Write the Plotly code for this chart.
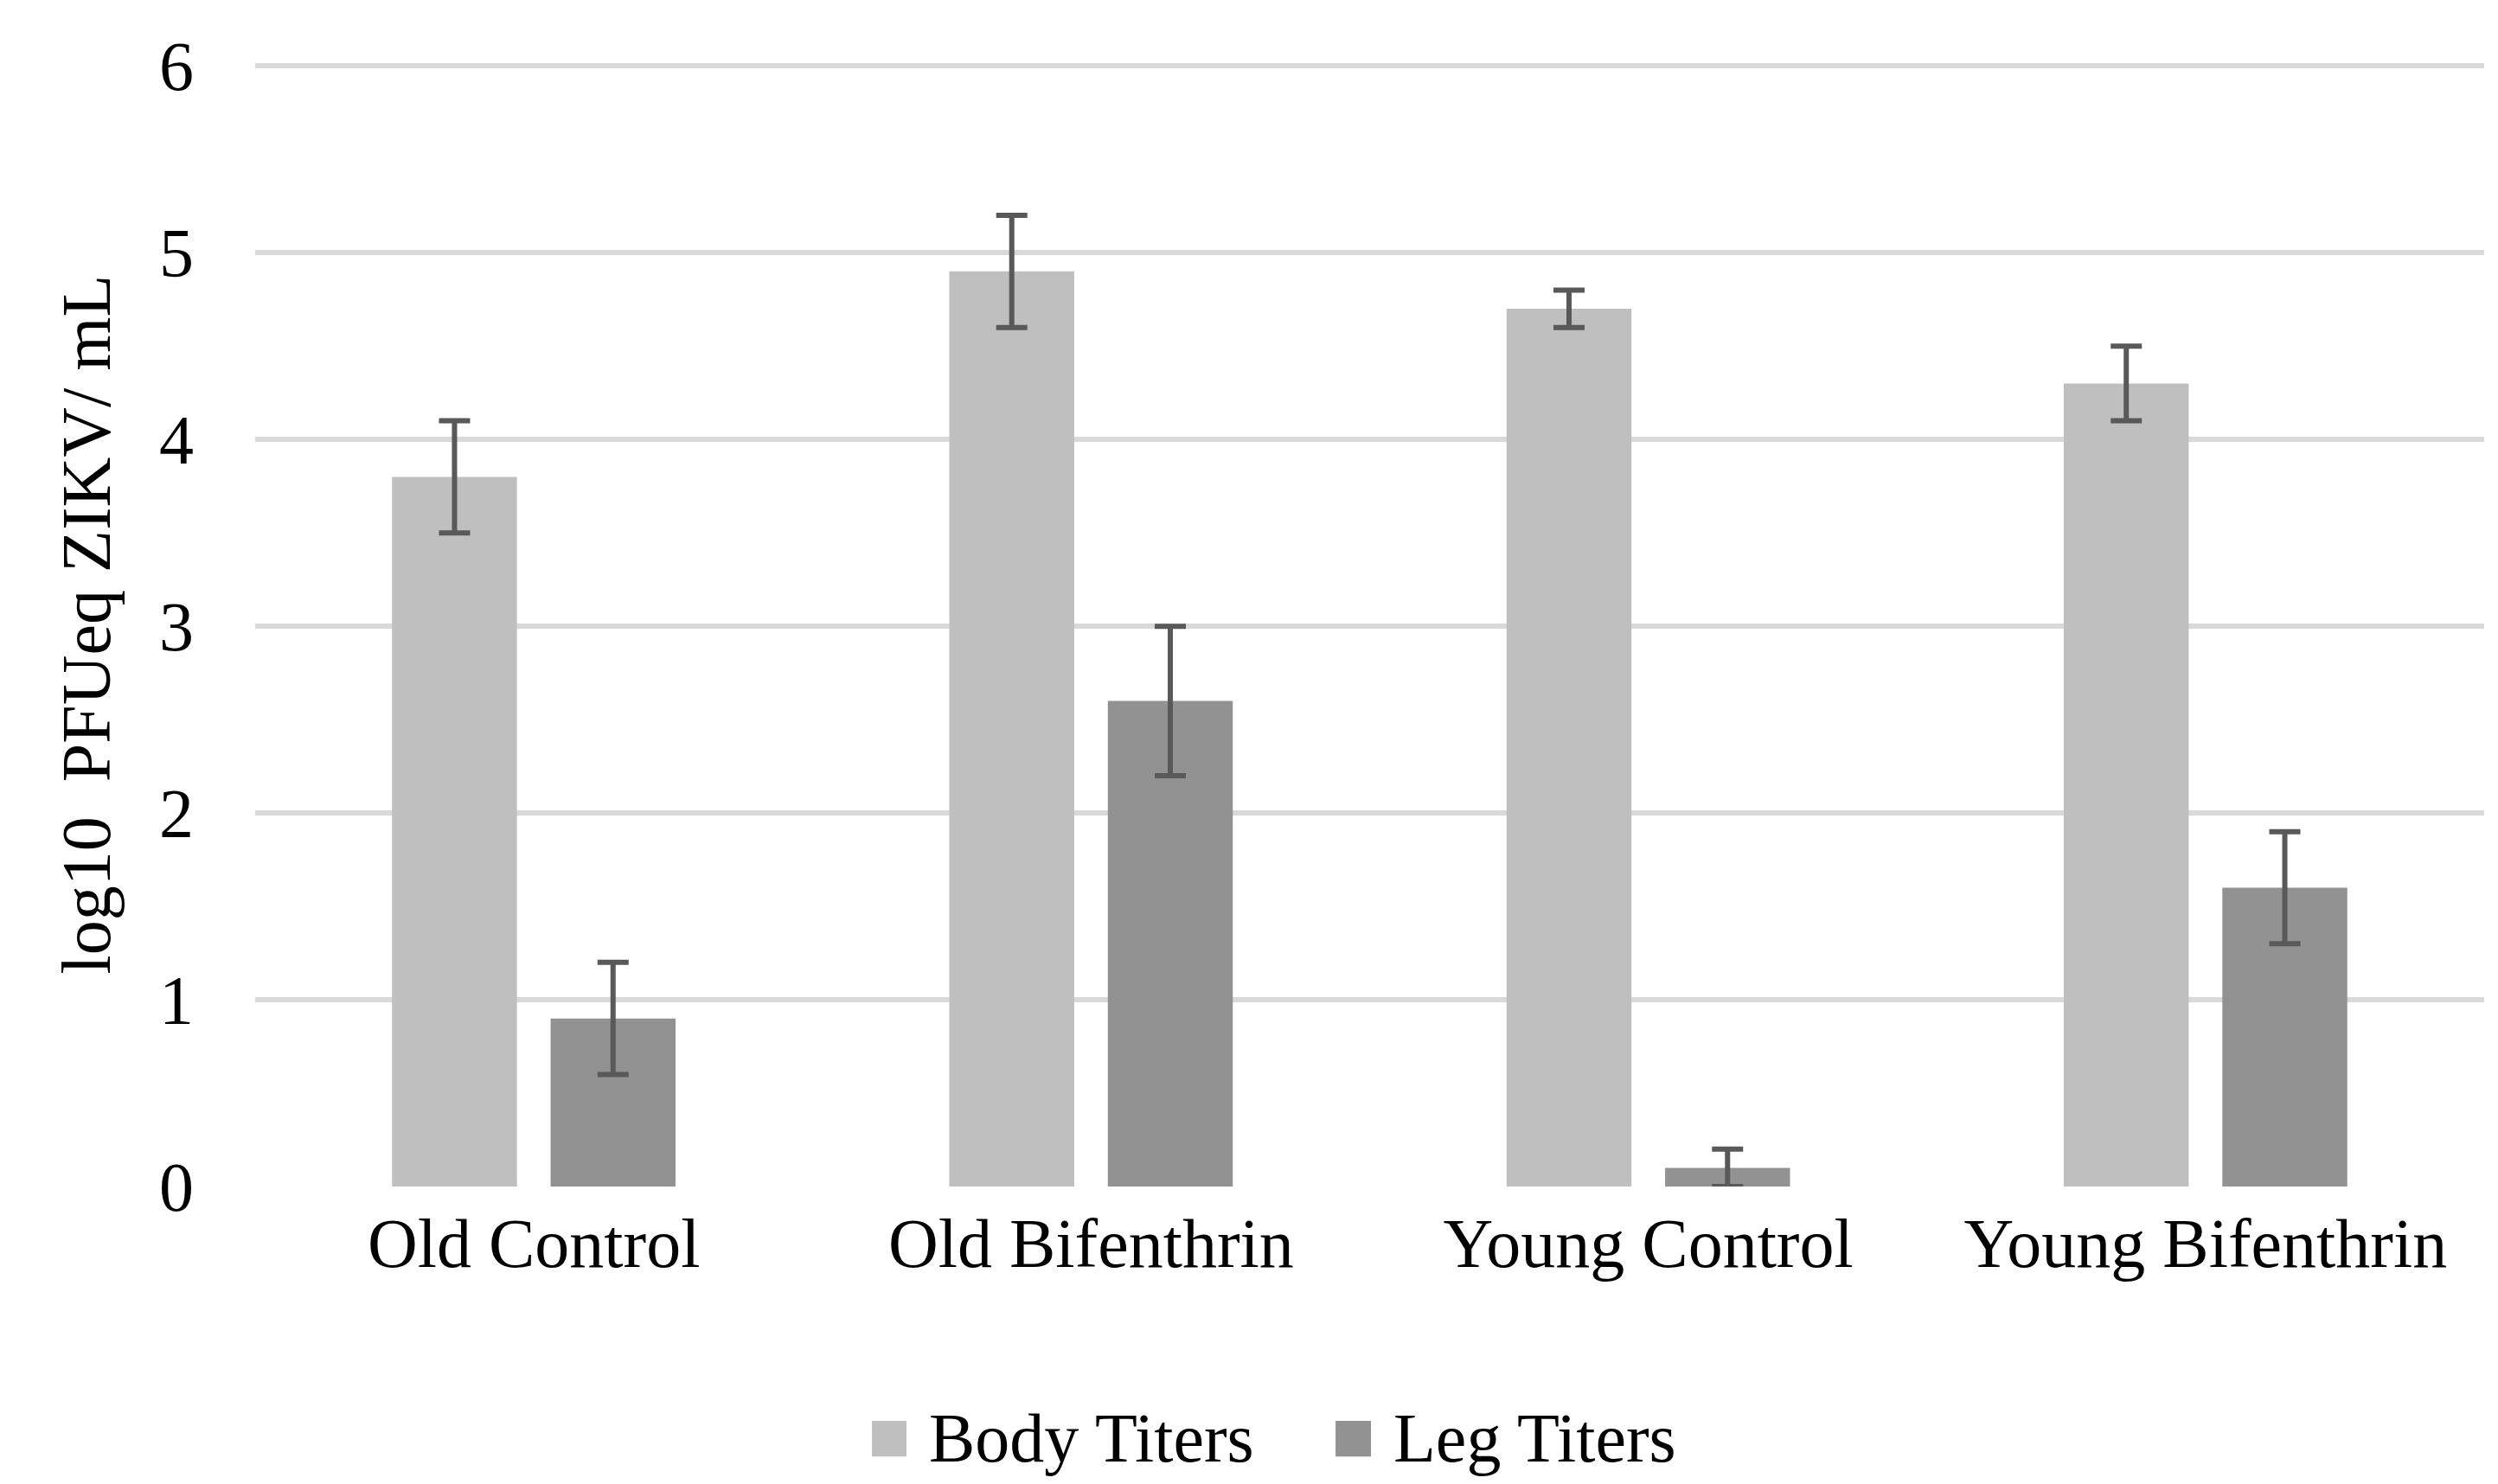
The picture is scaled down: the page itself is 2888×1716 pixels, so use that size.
import plotly.graph_objects as go

categories = ["Old Control", "Old Bifenthrin", "Young Control", "Young Bifenthrin"]
body_titers = [3.8, 4.9, 4.7, 4.3]
body_err = [0.3, 0.3, 0.1, 0.2]
leg_titers = [0.9, 2.6, 0.1, 1.6]
leg_err = [0.3, 0.4, 0.1, 0.3]
series_names = ["Body Titers", "Leg Titers"]
y_ticks = [0, 1, 2, 3, 4, 5, 6]

BODY_COLOR = "#BFBFBF"
LEG_COLOR = "#929292"
ERR_COLOR = "#595959"
GRID_COLOR = "#D9D9D9"
FONT = "Liberation Serif"
FS = 80

fig = go.Figure()
fig.add_trace(go.Bar(
    x=categories, y=body_titers, name=series_names[0],
    marker=dict(color=BODY_COLOR, line=dict(width=0)),
    error_y=dict(type="data", array=body_err, visible=True,
                 color=ERR_COLOR, thickness=6, width=18),
    showlegend=False,
))
fig.add_trace(go.Bar(
    x=categories, y=leg_titers, name=series_names[1],
    marker=dict(color=LEG_COLOR, line=dict(width=0)),
    error_y=dict(type="data", array=leg_err, visible=True,
                 color=ERR_COLOR, thickness=6, width=18),
    showlegend=False,
))

# Custom legend (large square swatches like the reference)
legend_items = [
    (series_names[0], BODY_COLOR, 0.2767, 0.2922, 0.3015),
    (series_names[1], LEG_COLOR, 0.4847, 0.5006, 0.5099),
]
for name, color, x0, x1, xt in legend_items:
    fig.add_shape(type="rect", xref="paper", yref="paper",
                  x0=x0, x1=x1, y0=-0.2401, y1=-0.2084,
                  fillcolor=color, line=dict(width=0), layer="above")
    fig.add_annotation(xref="paper", yref="paper", x=xt, y=-0.2242,
                       text=name, showarrow=False, xanchor="left", yanchor="middle",
                       font=dict(family=FONT, size=FS, color="#000000"))

fig.update_layout(
    width=2888, height=1716,
    margin=dict(l=287, r=24, t=64, b=352),
    paper_bgcolor="white", plot_bgcolor="white",
    barmode="group", bargap=0.431, bargroupgap=0.212,
    font=dict(family=FONT, size=FS, color="#000000"),
    showlegend=False,
)
fig.update_xaxes(
    showgrid=False, showline=False, zeroline=False, ticks="",
    tickfont=dict(family=FONT, size=FS, color="#000000"),
    ticklabelstandoff=12,
)
fig.update_yaxes(
    range=[0, 6.02], tickvals=y_ticks, ticktext=[str(v) for v in y_ticks],
    showgrid=True, gridcolor=GRID_COLOR, gridwidth=6,
    zeroline=False, showline=False, ticks="",
    tickfont=dict(family=FONT, size=FS, color="#000000"),
    ticklabelstandoff=70,
    title=dict(text="log10\u00a0\u00a0PFUeq ZIKV/ mL",
               font=dict(family=FONT, size=FS, color="#000000"), standoff=30),
)

fig.write_html("out.html")
